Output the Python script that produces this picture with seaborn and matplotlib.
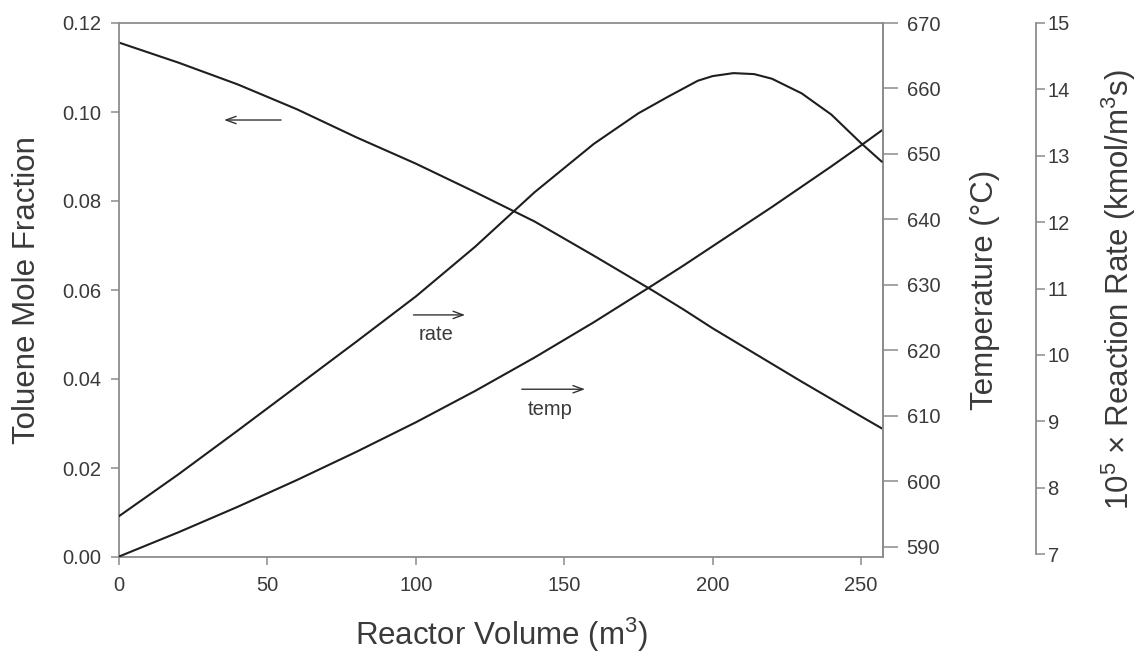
import matplotlib
matplotlib.use("Agg")
import matplotlib.pyplot as plt
import seaborn as sns
import pandas as pd

# ---- data ----
volume = [0, 20, 40, 60, 80, 100, 120, 140, 160, 180, 190, 200, 210, 220, 230, 240, 250, 257]
toluene = [0.1156, 0.1111, 0.1062, 0.1006, 0.0943, 0.0884, 0.0820, 0.0754, 0.0677, 0.0598,
           0.0557, 0.0514, 0.0474, 0.0434, 0.0394, 0.0355, 0.0316, 0.0289]
temperature = [588.5, 592.2, 596.1, 600.2, 604.5, 609.0, 613.8, 618.9, 624.3, 630.0,
               632.9, 635.9, 638.9, 641.9, 645.0, 648.1, 651.3, 653.6]
rate_volume = [0, 20, 40, 60, 80, 100, 120, 140, 160, 175, 185, 195, 200, 207, 214,
               220, 230, 240, 250, 257]
rate = [7.57, 8.20, 8.86, 9.53, 10.20, 10.88, 11.63, 12.45, 13.18, 13.64, 13.89, 14.13,
        14.20, 14.245, 14.23, 14.16, 13.94, 13.62, 13.19, 12.91]

x_ticks = [0, 50, 100, 150, 200, 250]
tol_ticks = [0.00, 0.02, 0.04, 0.06, 0.08, 0.10, 0.12]
temp_ticks = [590, 600, 610, 620, 630, 640, 650, 660, 670]
rate_ticks = [7, 8, 9, 10, 11, 12, 13, 14, 15]

df = pd.DataFrame({"volume": volume, "toluene": toluene, "temperature": temperature})
df_rate = pd.DataFrame({"volume": rate_volume, "rate": rate})

sns.set_theme(style="white")
plt.rcParams["font.family"] = ["Liberation Sans", "DejaVu Sans"]
plt.rcParams["mathtext.fontset"] = "custom"
plt.rcParams["mathtext.rm"] = "Liberation Sans"

LINE = "#1e1e1e"
SPINE = "#8c8c8c"
TEXT = "#3a3a3a"
W, H = 1139, 656

fig = plt.figure(figsize=(W / 100, H / 100), dpi=100)
fig.patch.set_facecolor("white")
ax = fig.add_axes([119 / W, (H - 557) / H, 764 / W, 534 / H])
ax2 = ax.twinx()
ax3 = ax.twinx()

sns.lineplot(data=df, x="volume", y="toluene", ax=ax, color=LINE, lw=1.5)
sns.lineplot(data=df, x="volume", y="temperature", ax=ax2, color=LINE, lw=1.5)
sns.lineplot(data=df_rate, x="volume", y="rate", ax=ax3, color=LINE, lw=1.5)

ax.set_xlim(0, 257.4)
ax.set_ylim(0, 0.12)
ax2.set_ylim(588.43, 670)
ax3.set_ylim(6.955, 15.0)

ax.set_xticks(x_ticks)
ax.set_xticklabels([str(v) for v in x_ticks])
ax.set_yticks(tol_ticks)
ax.set_yticklabels([f"{v:.2f}" for v in tol_ticks])
ax2.set_yticks(temp_ticks)
ax2.set_yticklabels([str(v) for v in temp_ticks])
ax3.set_yticks(rate_ticks)
ax3.set_yticklabels([str(v) for v in rate_ticks])

for a in (ax, ax2, ax3):
    a.set_facecolor("none")
    for s in a.spines.values():
        s.set_color(SPINE)
        s.set_linewidth(1.3)
ax.set_facecolor("white")
for side in ("left", "top", "bottom"):
    ax2.spines[side].set_visible(False)
    ax3.spines[side].set_visible(False)
ax3.spines["right"].set_position(("axes", 1.2))
ax3.spines["right"].set_bounds(7, 15)

ax.tick_params(axis="x", direction="out", length=6, width=1.1, color=SPINE,
               labelsize=14.5, labelcolor=TEXT, pad=8, bottom=True)
ax.tick_params(axis="y", direction="out", length=5.5, width=1.1, color=SPINE,
               labelsize=14.5, labelcolor=TEXT, pad=7, left=True)
ax2.tick_params(axis="y", direction="out", length=11, width=1.1, color=SPINE,
                labelsize=14.5, labelcolor=TEXT, pad=6, right=True)
ax3.tick_params(axis="y", direction="out", length=6.5, width=1.1, color=SPINE,
                labelsize=14.5, labelcolor=TEXT, pad=2, right=True)

LBL = 22.5
ax.set_xlabel(r"Reactor Volume (m$\mathregular{^3}$)", fontsize=LBL, color=TEXT)
ax.xaxis.set_label_coords(0.5, (557 - 645) / 534)
ax.xaxis.label.set_verticalalignment("baseline")

ax.set_ylabel("Toluene Mole Fraction", fontsize=LBL, color=TEXT)
ax.yaxis.set_label_coords((35 - 119) / 764, 0.5)
ax.yaxis.label.set_verticalalignment("baseline")

ax2.set_ylabel("Temperature (°C)", fontsize=LBL, color=TEXT, rotation=90)
ax2.yaxis.set_label_coords((993 - 119) / 764, 0.5)
ax2.yaxis.label.set_verticalalignment("baseline")

ax3.set_ylabel(r"$\mathregular{10^5}$ × Reaction Rate (kmol/m$\mathregular{^3}$s)",
               fontsize=LBL, color=TEXT, rotation=90)
ax3.yaxis.set_label_coords((1129 - 119) / 764, 0.5)
ax3.yaxis.label.set_verticalalignment("baseline")

# ---- annotation arrows (positions in toluene-axis data coords) ----
arrow = dict(arrowstyle="->,head_length=0.6,head_width=0.22", color="#333333",
             lw=1.0, mutation_scale=12, shrinkA=0, shrinkB=0)
ax.annotate("", xy=(35.4, 0.0982), xytext=(54.6, 0.0982), arrowprops=arrow)
ax.annotate("", xy=(116.6, 0.0544), xytext=(99.2, 0.0544), arrowprops=arrow)
ax.annotate("", xy=(157.0, 0.0377), xytext=(135.7, 0.0377), arrowprops=arrow)
ax.text(106.7, 0.0488, "rate", ha="center", va="baseline", fontsize=14.5, color=TEXT)
ax.text(145.2, 0.0319, "temp", ha="center", va="baseline", fontsize=14.5, color=TEXT)

ax.set_zorder(1)
ax2.set_zorder(2)
ax3.set_zorder(3)

fig.savefig("out.png", dpi=100)
